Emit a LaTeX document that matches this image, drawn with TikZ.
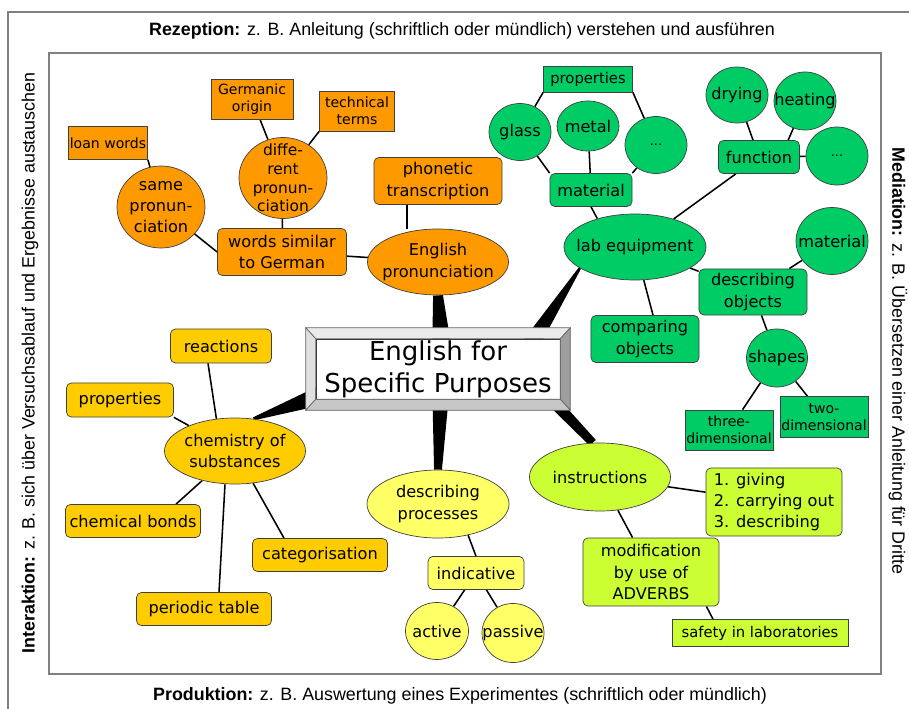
\documentclass[tikz,border=0pt]{standalone}
\usepackage{fontspec}
\usepackage{tikz}
\usetikzlibrary{shapes}
\usetikzlibrary{positioning}
\usetikzlibrary{calc}
\usetikzlibrary{backgrounds}
\newfontfamily\mapfont{DejaVu Sans}
\newfontfamily\framefont{Liberation Sans}
\definecolor{espOrange}{RGB}{255,153,0}
\definecolor{espGreen}{RGB}{0,204,102}
\definecolor{espGold}{RGB}{255,204,0}
\definecolor{espYellow}{RGB}{255,255,102}
\definecolor{espLime}{RGB}{204,255,51}
\definecolor{frameGray}{RGB}{128,128,128}
% tapered arm: start, end, half width at start, half width at end
\newcommand{\thickarm}[4]{\fill ($(#1)!#3!90:(#2)$) -- ($(#2)!#4!-90:(#1)$) -- ($(#2)!#4!90:(#1)$) -- ($(#1)!#3!-90:(#2)$) -- cycle;}

\begin{document}
\begin{tikzpicture}[x=0.025cm, y=-0.025cm]
\tikzstyle{every label}=[font=\mapfont\fontsize{11.5}{15}\selectfont, align=center, inner sep=0pt]
\tikzstyle{box}=[draw=black!75, line width=0.5pt, align=center, inner sep=1pt, font=\mapfont\fontsize{11.5}{15}\selectfont]
\tikzstyle{rbox}=[box, rounded corners=3.5pt]
\tikzstyle{bubble}=[ellipse, draw=black!75, line width=0.5pt, inner sep=0pt]
\tikzstyle{smalltext}=[font=\mapfont\fontsize{10}{12}\selectfont]
\tikzstyle{frametext}=[font=\framefont\fontsize{12.7}{15}\selectfont, inner sep=0pt]
\tikzstyle{link}=[line width=1.1pt]
\tikzstyle{bevel}=[draw=black!60, line width=0.5pt]
\useasboundingbox (0,0) rectangle (909,709);

% frames and the four skills
\draw[frameGray, line width=0.8pt] (8,709) -- (8,12) -- (909,12);
\draw[frameGray, line width=0.8pt] (49,53) rectangle (881,674);
\node[frametext] (rez) at (462,31) {\textbf{Rezeption:} z. B. Anleitung (schriftlich oder mündlich) verstehen und ausführen};
\node[frametext] (prod) at (460,696) {\textbf{Produktion:} z. B. Auswertung eines Experimentes (schriftlich oder mündlich)};
\node[frametext, rotate=90] (inter) at (30,363) {\textbf{Interaktion:} z. B. sich über Versuchsablauf und Ergebnisse austauschen};
\node[frametext, rotate=-90] (med) at (898,361) {\textbf{Mediation:} z. B. Übersetzen einer Anleitung für Dritte};

% centre
\node[draw=black!80, fill=white, align=center, font=\mapfont\fontsize{18.5}{23}\selectfont, minimum width=6.1cm, minimum height=1.5cm, inner sep=0pt] (main) at (438,369) {English for\\Specific Purposes};
\coordinate (bnw) at ([shift={(-10,-11)}]main.north west);
\coordinate (bne) at ([shift={(10,-11)}]main.north east);
\coordinate (bse) at ([shift={(10,11)}]main.south east);
\coordinate (bsw) at ([shift={(-10,11)}]main.south west);
\filldraw[bevel, fill=black!8] (bnw) -- (bne) -- (main.north east) -- (main.north west) -- cycle;
\filldraw[bevel, fill=black!12] (bnw) -- (main.north west) -- (main.south west) -- (bsw) -- cycle;
\filldraw[bevel, fill=black!38] (bne) -- (bse) -- (main.south east) -- (main.north east) -- cycle;
\filldraw[bevel, fill=black!22] (bsw) -- (main.south west) -- (main.south east) -- (bse) -- cycle;
\coordinate (hubN) at (442,350);
\coordinate (hubS) at (441,385);
\coordinate (hubW) at (334,391);
\coordinate (hubNE) at (522,358);
\coordinate (hubSE) at (545,393);

% pronunciation
\node[box, smalltext, fill=espOrange, minimum width=1.975cm, minimum height=0.825cm] (loanw) at (108,143) {loan words};
\node[box, smalltext, fill=espOrange, minimum width=2.05cm, minimum height=1cm] (germ) at (252,99) {Germanic\\origin};
\node[box, smalltext, fill=espOrange, minimum width=1.875cm, minimum height=1cm] (tech) at (357,111) {technical\\terms};
\node[bubble, fill=espOrange, minimum width=2.2cm, minimum height=2.05cm, label=center:{same\\pronun-\\ciation}] (samepr) at (161,207) {};
\node[bubble, fill=espOrange, minimum width=2.2cm, minimum height=2.025cm, label={[font=\mapfont\fontsize{11}{13.3}\selectfont]center:{diffe-\\rent\\pronun-\\ciation}}] (diffpr) at (283,178) {};
\node[rbox, fill=espOrange, minimum width=3.225cm, minimum height=1.175cm] (similar) at (282,252) {words similar\\to German};
\node[rbox, fill=espOrange, minimum width=3.2cm, minimum height=1.175cm] (phon) at (438,181) {phonetic\\transcription};
\node[bubble, fill=espOrange, minimum width=3.525cm, minimum height=1.65cm, label=center:{English\\pronunciation}] (engpr) at (438,262) {};

% lab equipment
\node[box, fill=espGreen, font=\mapfont\fontsize{10.5}{13}\selectfont, minimum width=2.225cm, minimum height=0.65cm] (props) at (588,79) {properties};
\node[bubble, fill=espGreen, minimum width=1.55cm, minimum height=1.425cm, label=center:glass] (glass) at (520,132) {};
\node[bubble, fill=espGreen, minimum width=1.55cm, minimum height=1.25cm, label=center:metal] (metal) at (588,126) {};
\node[bubble, fill=espGreen, minimum width=1.55cm, minimum height=1.425cm, label={[font=\mapfont\fontsize{9}{11}\selectfont]center:...}] (dotsa) at (656,145) {};
\node[rbox, fill=espGreen, minimum width=2.05cm, minimum height=0.825cm] (mat) at (591,190) {material};
\node[bubble, fill=espGreen, minimum width=3.55cm, minimum height=1.65cm, label=center:{lab equipment}] (labeq) at (635,247) {};
\node[bubble, fill=espGreen, minimum width=1.55cm, minimum height=1.4cm, label=center:drying] (dry) at (737,95) {};
\node[bubble, fill=espGreen, minimum width=1.55cm, minimum height=1.45cm, label=center:heating] (heat) at (805,101) {};
\node[rbox, fill=espGreen, minimum width=2.025cm, minimum height=0.825cm] (func) at (759,157) {function};
\node[bubble, fill=espGreen, minimum width=1.55cm, minimum height=1.45cm, label={[font=\mapfont\fontsize{9}{11}\selectfont]center:...}] (dotsb) at (837,156) {};
\node[bubble, fill=espGreen, minimum width=1.8cm, minimum height=1.675cm, label=center:material] (matc) at (832,241) {};
\node[rbox, fill=espGreen, minimum width=2.7cm, minimum height=1.15cm] (descobj) at (753,292) {describing\\objects};
\node[rbox, fill=espGreen, minimum width=2.7cm, minimum height=1.175cm] (compobj) at (645,339) {comparing\\objects};
\node[bubble, fill=espGreen, minimum width=1.525cm, minimum height=1.45cm, label=center:shapes] (shapes) at (777,358) {};
\node[box, smalltext, fill=espGreen, minimum width=2.2cm, minimum height=1cm] (three) at (729,430) {three-\\dimensional};
\node[box, smalltext, fill=espGreen, minimum width=2.2cm, minimum height=1.025cm] (two) at (824,417) {two-\\dimensional};

% chemistry
\node[rbox, fill=espGold, minimum width=2.525cm, minimum height=0.85cm] (reac) at (221,346) {reactions};
\node[rbox, fill=espGold, minimum width=2.675cm, minimum height=0.85cm] (gprops) at (120,400) {properties};
\node[bubble, fill=espGold, minimum width=3.525cm, minimum height=1.65cm, label=center:{chemistry of\\substances}] (chem) at (235,451) {};
\node[rbox, fill=espGold, minimum width=3.375cm, minimum height=0.825cm] (bonds) at (133,521) {chemical bonds};
\node[rbox, fill=espGold, minimum width=3.375cm, minimum height=0.825cm] (categ) at (320,555) {categorisation};
\node[rbox, fill=espGold, minimum width=3.375cm, minimum height=0.825cm] (ptable) at (204,609) {periodic table};

% processes
\node[bubble, fill=espYellow, minimum width=3.55cm, minimum height=1.7cm, label=center:{describing\\processes}] (descproc) at (438,504) {};
\node[rbox, fill=espYellow, minimum width=2.4cm, minimum height=0.825cm] (indic) at (476,573) {indicative};
\node[bubble, fill=espYellow, minimum width=1.575cm, minimum height=1.425cm, label=center:active] (active) at (437,631) {};
\node[bubble, fill=espYellow, minimum width=1.55cm, minimum height=1.475cm, label=center:passive] (passive) at (513,633) {};

% instructions
\node[bubble, fill=espLime, minimum width=3.525cm, minimum height=1.7cm, label=center:instructions] (instr) at (600,477) {};
\node[rbox, fill=espLime, align=left, minimum width=3.4cm, minimum height=1.7cm] (steps) at (774,502) {1. giving\\2. carrying out\\3. describing};
\node[rbox, fill=espLime, minimum width=3.4cm, minimum height=1.7cm] (modif) at (651,572) {modification\\by use of\\ADVERBS};
\node[box, fill=espLime, font=\mapfont\fontsize{10.5}{13}\selectfont, minimum width=4.4cm, minimum height=0.675cm] (safety) at (760,633) {safety in laboratories};

\begin{pgfonlayer}{background}
\thickarm{hubN}{engpr.south}{7pt}{3.5pt}
\thickarm{hubS}{descproc.north}{6.3pt}{2.8pt}
\thickarm{hubW}{chem.60}{8pt}{1.1pt}
\thickarm{hubNE}{labeq.201}{7pt}{0.9pt}
\thickarm{hubSE}{instr.102}{4.5pt}{3pt}
\draw[link] (loanw.south east) -- (samepr);
\draw[link] (germ) -- (diffpr);
\draw[link] (tech.south west) -- (diffpr);
\draw[link] (samepr) -- (similar.west);
\draw[link] (diffpr) -- (similar);
\draw[link] (similar) -- (engpr);
\draw[link] ([xshift=-0.775cm]phon.south) -- ([xshift=-0.775cm]engpr.north);
\draw[link] (props.south west) -- (glass);
\draw[link] (props.south east) -- (dotsa);
\draw[link] (glass) -- (mat.north west);
\draw[link] (metal) -- (mat);
\draw[link] (dotsa) -- (mat.north east);
\draw[link] (mat.south) -- (labeq.143);
\draw[link] (labeq) -- (func);
\draw[link] (func) -- (dry);
\draw[link] (func.30) -- (heat);
\draw[link] (func) -- (dotsb);
\draw[link] (labeq) -- (descobj);
\draw[link] (descobj) -- (matc);
\draw[link] (labeq) -- ([xshift=0.2cm]compobj.north);
\draw[link] (descobj) -- (shapes);
\draw[link] (shapes) -- (three);
\draw[link] (shapes) -- (two);
\draw[link] ([xshift=-0.325cm]reac.south) -- (chem.120);
\draw[link] (gprops.south east) -- (chem);
\draw[link] (chem) -- ([xshift=1.075cm]bonds.north);
\draw[link] ([xshift=-0.25cm]chem.south) -- ([xshift=0.375cm]ptable.north);
\draw[link] (chem) -- ([xshift=-0.9cm]categ.north);
\draw[link] (descproc.-46) -- (indic.north);
\draw[link] (indic) -- (active);
\draw[link] (indic) -- (passive);
\draw[link] (instr) -- (steps);
\draw[link] (instr) -- (modif);
\draw[link] ([xshift=-0.325cm]modif.south east) -- ([xshift=-1.175cm]safety.north);
\end{pgfonlayer}
\end{tikzpicture}
\end{document}
